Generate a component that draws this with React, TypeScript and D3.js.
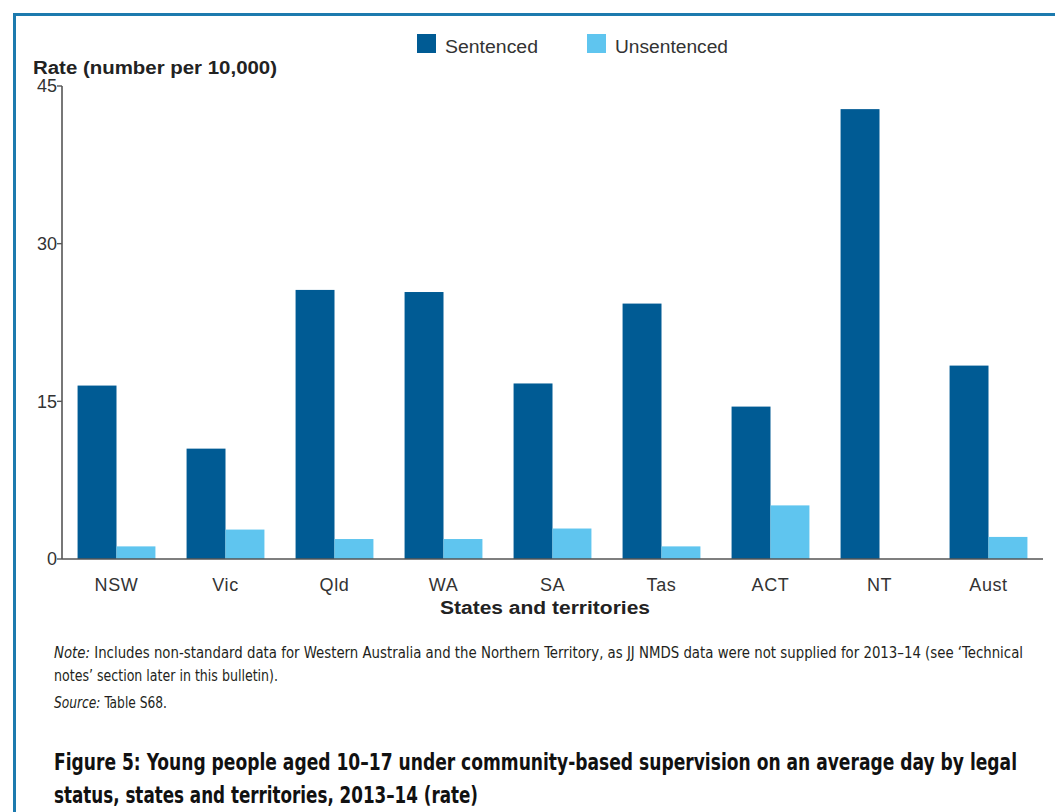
import React from "react";
import * as d3 from "d3";

const categories = ["NSW", "Vic", "Qld", "WA", "SA", "Tas", "ACT", "NT", "Aust"];
const seriesNames = ["Sentenced", "Unsentenced"];
const sentenced = [16.5, 10.5, 25.6, 25.4, 16.7, 24.3, 14.5, 42.8, 18.4];
const unsentenced = [1.2, 2.8, 1.9, 1.9, 2.9, 1.2, 5.1, 0, 2.1];
const yTicks = [0, 15, 30, 45];
const colors = ["#005b94", "#5fc5ef"];

const W = 1055;
const H = 812;
const left = 62;
const right = 1043;
const top = 86;
const bottom = 559;

export default function App() {
  const x0 = d3.scaleBand<string>().domain(categories).range([left, right]).padding(0);
  const x1 = d3
    .scaleBand<string>()
    .domain(seriesNames)
    .range([0, x0.bandwidth()])
    .paddingInner(0)
    .paddingOuter(0.4);
  const y = d3.scaleLinear().domain([0, 45]).range([bottom, top]);
  const series = [sentenced, unsentenced];
  const chartFont = "'Liberation Sans', Arial, sans-serif";
  const narrow = "'Liberation Sans Narrow', 'DejaVu Sans Condensed', 'Liberation Sans', sans-serif";
  const legendX = [417, 587];
  const legendW = [93, 113];

  return (
    <svg
      width={W}
      height={H}
      viewBox={`0 0 ${W} ${H}`}
      style={{ position: "absolute", left: 0, top: 0, background: "#fff" }}
    >
      <rect x={0} y={0} width={W} height={H} fill="#fff" />
      {/* frame */}
      <path d={`M14.5,${H} L14.5,14.5 L${W},14.5`} fill="none" stroke="#1c7aae" strokeWidth={3} />

      {/* legend */}
      {seriesNames.map((s, i) => (
        <g key={s}>
          <rect x={legendX[i]} y={34} width={19} height={19} fill={colors[i]} />
          <text
            x={legendX[i] + 28}
            y={53}
            fontFamily={chartFont}
            fontSize={18}
            fill="#333"
            textLength={legendW[i]}
            lengthAdjust="spacingAndGlyphs"
          >
            {s}
          </text>
        </g>
      ))}

      {/* y title */}
      <text
        x={33}
        y={74}
        fontFamily={chartFont}
        fontSize={18}
        fontWeight="bold"
        fill="#222"
        textLength={244}
        lengthAdjust="spacingAndGlyphs"
      >
        Rate (number per 10,000)
      </text>

      {/* bars */}
      {categories.map((c, ci) => (
        <g key={c} transform={`translate(${x0(c)},0)`}>
          {series.map((vals, si) =>
            vals[ci] > 0 ? (
              <rect
                key={si}
                x={x1(seriesNames[si])}
                y={y(vals[ci])}
                width={x1.bandwidth()}
                height={bottom - y(vals[ci])}
                fill={colors[si]}
              />
            ) : null
          )}
        </g>
      ))}

      {/* y axis */}
      <line x1={left} x2={left} y1={top} y2={bottom} stroke="#555" strokeWidth={1.6} />
      {yTicks.map((t) => (
        <g key={t}>
          <line x1={left - 5} x2={left} y1={y(t)} y2={y(t)} stroke="#555" strokeWidth={1.4} />
          <text
            x={left - 5}
            y={y(t)}
            dy="0.35em"
            textAnchor="end"
            fontFamily={chartFont}
            fontSize={18}
            fill="#333"
          >
            {t}
          </text>
        </g>
      ))}

      {/* x axis */}
      <line x1={left} x2={right} y1={bottom} y2={bottom} stroke="#555" strokeWidth={1.6} />
      {categories.map((c) => (
        <text
          key={c}
          x={(x0(c) as number) + x0.bandwidth() / 2}
          y={591}
          textAnchor="middle"
          fontFamily={chartFont}
          fontSize={18}
          letterSpacing={0.6}
          fill="#333"
        >
          {c}
        </text>
      ))}
      <text
        x={440}
        y={614}
        fontFamily={chartFont}
        fontSize={18}
        fontWeight="bold"
        fill="#222"
        textLength={210}
        lengthAdjust="spacingAndGlyphs"
      >
        States and territories
      </text>

      {/* notes */}
      <text x={54} y={658} fontFamily={narrow} fontSize={15} fill="#231f20" textLength={969} lengthAdjust="spacingAndGlyphs">
        <tspan fontStyle="italic">Note:</tspan> Includes non-standard data for Western Australia and the Northern Territory, as JJ NMDS data were not supplied for 2013–14 (see ‘Technical
      </text>
      <text x={54} y={681} fontFamily={narrow} fontSize={15} fill="#231f20" textLength={224} lengthAdjust="spacingAndGlyphs">
        notes’ section later in this bulletin).
      </text>
      <text x={54} y={708} fontFamily={narrow} fontSize={15} fill="#231f20" textLength={113} lengthAdjust="spacingAndGlyphs">
        <tspan fontStyle="italic">Source:</tspan> Table S68.
      </text>

      {/* figure title */}
      <g transform="translate(54,770) scale(1,1.18)">
        <text x={0} y={0} fontFamily={narrow} fontSize={19.5} fontWeight="bold" fill="#111" textLength={963} lengthAdjust="spacingAndGlyphs">
          Figure 5: Young people aged 10–17 under community-based supervision on an average day by legal
        </text>
      </g>
      <g transform="translate(54,803) scale(1,1.18)">
        <text x={0} y={0} fontFamily={narrow} fontSize={19.5} fontWeight="bold" fill="#111" textLength={424} lengthAdjust="spacingAndGlyphs">
          status, states and territories, 2013–14 (rate)
        </text>
      </g>
    </svg>
  );
}
